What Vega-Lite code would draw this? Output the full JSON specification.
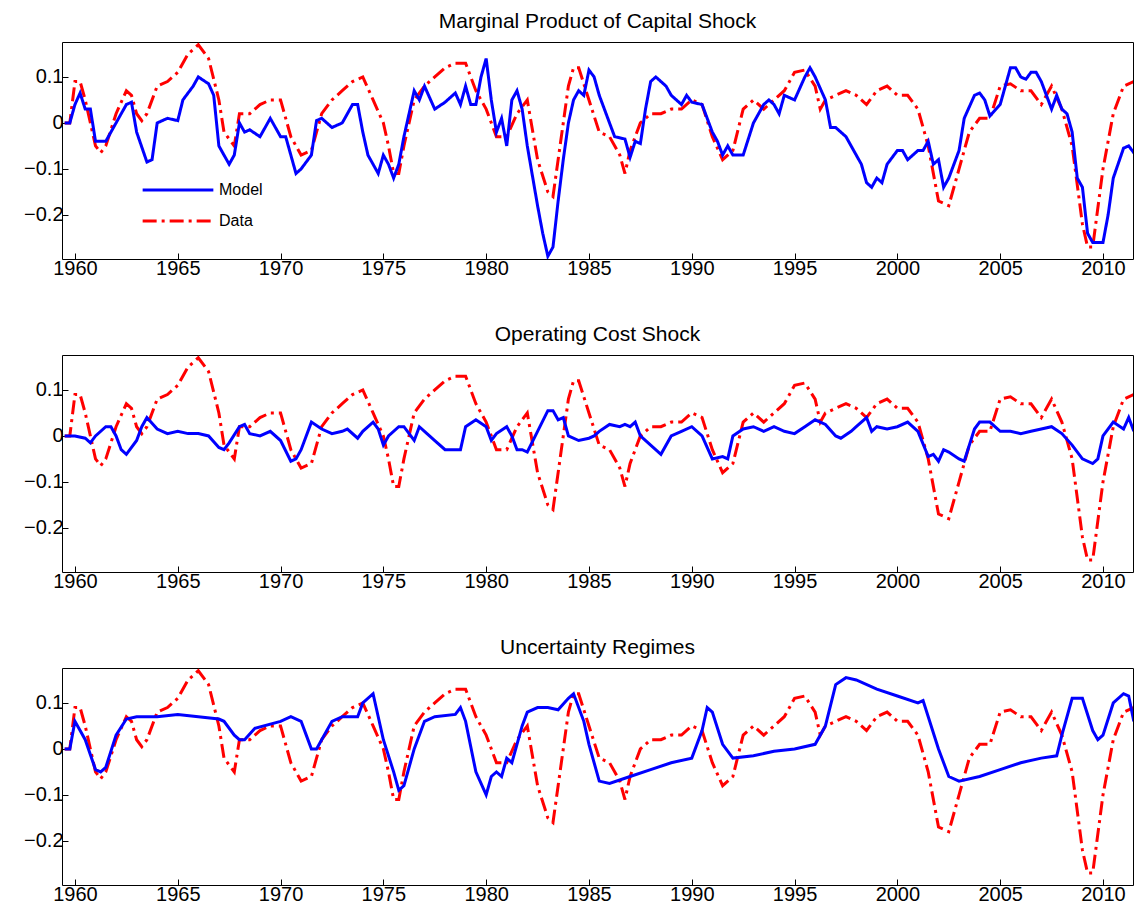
{
"$schema":"https://vega.github.io/schema/vega-lite/v6.json",
"padding":{"left":23,"top":10,"right":5,"bottom":0},
"spacing":44,
"config":{"font":"Liberation Sans","view":{"stroke":"black","strokeWidth":1},
"axis":{"grid":false,"domain":false,"tickSize":-6,"tickColor":"black","labelColor":"black","labelFontSize":20,"labelFont":"Liberation Sans","title":null,"labelPadding":5},
"title":{"fontSize":21,"fontWeight":"normal","font":"Liberation Sans","offset":10}},
"datasets":{
"data":[{"x":1959.5,"y":0},{"x":1959.75,"y":0},{"x":1960.0,"y":0.09},{"x":1960.25,"y":0.09},{"x":1960.5,"y":0.05},{"x":1961.0,"y":-0.05},{"x":1961.25,"y":-0.065},{"x":1961.5,"y":-0.05},{"x":1962.0,"y":0.02},{"x":1962.5,"y":0.07},{"x":1962.75,"y":0.06},{"x":1963.0,"y":0.02},{"x":1963.25,"y":0.005},{"x":1963.5,"y":0.02},{"x":1964,"y":0.08},{"x":1964.5,"y":0.09},{"x":1965,"y":0.11},{"x":1965.5,"y":0.15},{"x":1966,"y":0.17},{"x":1966.5,"y":0.14},{"x":1967,"y":0.05},{"x":1967.25,"y":-0.02},{"x":1967.75,"y":-0.05},{"x":1968,"y":0.02},{"x":1968.5,"y":0.02},{"x":1969,"y":0.04},{"x":1969.5,"y":0.05},{"x":1970,"y":0.05},{"x":1970.5,"y":-0.03},{"x":1971,"y":-0.07},{"x":1971.5,"y":-0.06},{"x":1972,"y":0.02},{"x":1972.5,"y":0.05},{"x":1973,"y":0.07},{"x":1973.5,"y":0.09},{"x":1974,"y":0.1},{"x":1974.5,"y":0.05},{"x":1975,"y":0.0},{"x":1975.25,"y":-0.05},{"x":1975.5,"y":-0.11},{"x":1975.75,"y":-0.11},{"x":1976,"y":-0.05},{"x":1976.5,"y":0.05},{"x":1977,"y":0.08},{"x":1977.5,"y":0.1},{"x":1978,"y":0.12},{"x":1978.5,"y":0.13},{"x":1979,"y":0.13},{"x":1979.5,"y":0.07},{"x":1980,"y":0.03},{"x":1980.5,"y":-0.03},{"x":1981,"y":-0.03},{"x":1981.5,"y":0.02},{"x":1982,"y":0.05},{"x":1982.5,"y":-0.08},{"x":1983,"y":-0.15},{"x":1983.25,"y":-0.16},{"x":1983.5,"y":-0.08},{"x":1984,"y":0.08},{"x":1984.25,"y":0.12},{"x":1984.5,"y":0.12},{"x":1985,"y":0.05},{"x":1985.5,"y":-0.02},{"x":1986,"y":-0.03},{"x":1986.5,"y":-0.07},{"x":1986.75,"y":-0.11},{"x":1987,"y":-0.06},{"x":1987.5,"y":0.0},{"x":1988,"y":0.02},{"x":1988.5,"y":0.02},{"x":1989,"y":0.03},{"x":1989.5,"y":0.03},{"x":1990,"y":0.05},{"x":1990.5,"y":0.04},{"x":1991,"y":-0.03},{"x":1991.5,"y":-0.08},{"x":1992,"y":-0.06},{"x":1992.5,"y":0.03},{"x":1993,"y":0.05},{"x":1993.5,"y":0.03},{"x":1994,"y":0.05},{"x":1994.5,"y":0.07},{"x":1995,"y":0.11},{"x":1995.5,"y":0.115},{"x":1996,"y":0.08},{"x":1996.25,"y":0.03},{"x":1996.5,"y":0.05},{"x":1997,"y":0.06},{"x":1997.5,"y":0.07},{"x":1998,"y":0.06},{"x":1998.5,"y":0.04},{"x":1999,"y":0.07},{"x":1999.5,"y":0.08},{"x":2000,"y":0.06},{"x":2000.5,"y":0.06},{"x":2001,"y":0.03},{"x":2001.5,"y":-0.05},{"x":2002,"y":-0.17},{"x":2002.5,"y":-0.18},{"x":2003,"y":-0.1},{"x":2003.5,"y":-0.02},{"x":2004,"y":0.01},{"x":2004.5,"y":0.01},{"x":2005,"y":0.08},{"x":2005.5,"y":0.085},{"x":2006,"y":0.07},{"x":2006.5,"y":0.07},{"x":2007,"y":0.04},{"x":2007.5,"y":0.08},{"x":2008,"y":0.03},{"x":2008.5,"y":-0.05},{"x":2009,"y":-0.22},{"x":2009.25,"y":-0.27},{"x":2009.5,"y":-0.27},{"x":2010,"y":-0.1},{"x":2010.5,"y":0.02},{"x":2011,"y":0.08},{"x":2011.5,"y":0.09}],
"m1":[{"x":1959.5,"y":0},{"x":1959.75,"y":0},{"x":1960,"y":0.04},{"x":1960.25,"y":0.065},{"x":1960.5,"y":0.03},{"x":1960.75,"y":0.03},{"x":1961,"y":-0.04},{"x":1961.5,"y":-0.04},{"x":1962,"y":0.0},{"x":1962.5,"y":0.04},{"x":1962.75,"y":0.045},{"x":1963,"y":-0.02},{"x":1963.5,"y":-0.085},{"x":1963.75,"y":-0.08},{"x":1964,"y":0.0},{"x":1964.5,"y":0.01},{"x":1965,"y":0.005},{"x":1965.25,"y":0.05},{"x":1965.75,"y":0.08},{"x":1966,"y":0.1},{"x":1966.5,"y":0.085},{"x":1966.75,"y":0.06},{"x":1967,"y":-0.05},{"x":1967.5,"y":-0.09},{"x":1967.75,"y":-0.07},{"x":1968,"y":0.0},{"x":1968.25,"y":-0.02},{"x":1968.5,"y":-0.015},{"x":1969,"y":-0.03},{"x":1969.5,"y":0.01},{"x":1970,"y":-0.03},{"x":1970.25,"y":-0.03},{"x":1970.75,"y":-0.11},{"x":1971,"y":-0.1},{"x":1971.5,"y":-0.07},{"x":1971.75,"y":0.005},{"x":1972,"y":0.01},{"x":1972.5,"y":-0.01},{"x":1973,"y":0.0},{"x":1973.5,"y":0.04},{"x":1973.75,"y":0.04},{"x":1974,"y":-0.02},{"x":1974.25,"y":-0.07},{"x":1974.75,"y":-0.11},{"x":1975,"y":-0.07},{"x":1975.25,"y":-0.09},{"x":1975.5,"y":-0.12},{"x":1975.75,"y":-0.09},{"x":1976,"y":-0.03},{"x":1976.5,"y":0.07},{"x":1976.75,"y":0.05},{"x":1977,"y":0.08},{"x":1977.5,"y":0.03},{"x":1978,"y":0.045},{"x":1978.5,"y":0.065},{"x":1978.75,"y":0.04},{"x":1979,"y":0.08},{"x":1979.25,"y":0.04},{"x":1979.5,"y":0.04},{"x":1979.75,"y":0.1},{"x":1980,"y":0.14},{"x":1980.25,"y":0.05},{"x":1980.5,"y":-0.02},{"x":1980.75,"y":0.01},{"x":1981,"y":-0.05},{"x":1981.25,"y":0.05},{"x":1981.5,"y":0.07},{"x":1981.75,"y":0.03},{"x":1982,"y":-0.05},{"x":1982.5,"y":-0.18},{"x":1982.75,"y":-0.24},{"x":1983,"y":-0.29},{"x":1983.25,"y":-0.27},{"x":1983.5,"y":-0.17},{"x":1983.75,"y":-0.08},{"x":1984,"y":0.0},{"x":1984.25,"y":0.05},{"x":1984.5,"y":0.07},{"x":1984.75,"y":0.06},{"x":1985,"y":0.115},{"x":1985.25,"y":0.1},{"x":1985.5,"y":0.06},{"x":1986,"y":0.0},{"x":1986.25,"y":-0.03},{"x":1986.75,"y":-0.035},{"x":1987,"y":-0.075},{"x":1987.25,"y":-0.04},{"x":1987.5,"y":-0.045},{"x":1987.75,"y":0.03},{"x":1988,"y":0.09},{"x":1988.25,"y":0.1},{"x":1988.75,"y":0.08},{"x":1989,"y":0.06},{"x":1989.5,"y":0.04},{"x":1989.75,"y":0.06},{"x":1990,"y":0.045},{"x":1990.5,"y":0.04},{"x":1991,"y":-0.02},{"x":1991.25,"y":-0.04},{"x":1991.5,"y":-0.07},{"x":1991.75,"y":-0.05},{"x":1992,"y":-0.07},{"x":1992.5,"y":-0.07},{"x":1993,"y":0.0},{"x":1993.5,"y":0.04},{"x":1993.75,"y":0.05},{"x":1994,"y":0.04},{"x":1994.25,"y":0.02},{"x":1994.5,"y":0.06},{"x":1995,"y":0.05},{"x":1995.5,"y":0.1},{"x":1995.75,"y":0.12},{"x":1996,"y":0.1},{"x":1996.5,"y":0.05},{"x":1996.75,"y":-0.01},{"x":1997,"y":-0.01},{"x":1997.5,"y":-0.03},{"x":1998,"y":-0.07},{"x":1998.25,"y":-0.09},{"x":1998.5,"y":-0.13},{"x":1998.75,"y":-0.14},{"x":1999,"y":-0.12},{"x":1999.25,"y":-0.13},{"x":1999.5,"y":-0.09},{"x":2000,"y":-0.06},{"x":2000.25,"y":-0.06},{"x":2000.5,"y":-0.08},{"x":2001,"y":-0.06},{"x":2001.25,"y":-0.06},{"x":2001.5,"y":-0.04},{"x":2001.75,"y":-0.09},{"x":2002,"y":-0.08},{"x":2002.25,"y":-0.14},{"x":2002.5,"y":-0.12},{"x":2003,"y":-0.06},{"x":2003.25,"y":0.01},{"x":2003.75,"y":0.06},{"x":2004,"y":0.065},{"x":2004.25,"y":0.05},{"x":2004.5,"y":0.015},{"x":2005,"y":0.04},{"x":2005.25,"y":0.08},{"x":2005.5,"y":0.12},{"x":2005.75,"y":0.12},{"x":2006,"y":0.1},{"x":2006.25,"y":0.095},{"x":2006.5,"y":0.11},{"x":2006.75,"y":0.11},{"x":2007,"y":0.09},{"x":2007.25,"y":0.06},{"x":2007.5,"y":0.03},{"x":2007.75,"y":0.06},{"x":2008,"y":0.03},{"x":2008.25,"y":0.02},{"x":2008.5,"y":-0.02},{"x":2008.75,"y":-0.12},{"x":2009,"y":-0.14},{"x":2009.25,"y":-0.24},{"x":2009.5,"y":-0.26},{"x":2010,"y":-0.26},{"x":2010.25,"y":-0.2},{"x":2010.5,"y":-0.12},{"x":2011,"y":-0.055},{"x":2011.25,"y":-0.05},{"x":2011.5,"y":-0.065},{"x":2011.75,"y":0.0}],
"m2":[{"x":1959.5,"y":0},{"x":1960,"y":0.0},{"x":1960.5,"y":-0.005},{"x":1960.75,"y":-0.015},{"x":1961,"y":0.0},{"x":1961.5,"y":0.02},{"x":1961.75,"y":0.02},{"x":1962,"y":0.0},{"x":1962.25,"y":-0.03},{"x":1962.5,"y":-0.04},{"x":1963,"y":-0.01},{"x":1963.25,"y":0.02},{"x":1963.5,"y":0.04},{"x":1964,"y":0.015},{"x":1964.5,"y":0.005},{"x":1965,"y":0.01},{"x":1965.5,"y":0.005},{"x":1966,"y":0.005},{"x":1966.5,"y":0.0},{"x":1967,"y":-0.025},{"x":1967.25,"y":-0.03},{"x":1967.5,"y":-0.015},{"x":1968,"y":0.02},{"x":1968.25,"y":0.025},{"x":1968.5,"y":0.005},{"x":1969,"y":0.0},{"x":1969.5,"y":0.01},{"x":1970,"y":-0.01},{"x":1970.5,"y":-0.055},{"x":1970.75,"y":-0.05},{"x":1971,"y":-0.03},{"x":1971.5,"y":0.03},{"x":1972,"y":0.015},{"x":1972.5,"y":0.005},{"x":1973,"y":0.01},{"x":1973.25,"y":0.015},{"x":1973.75,"y":-0.005},{"x":1974,"y":0.01},{"x":1974.5,"y":0.03},{"x":1974.75,"y":0.015},{"x":1975,"y":-0.02},{"x":1975.25,"y":0.0},{"x":1975.75,"y":0.02},{"x":1976,"y":0.02},{"x":1976.5,"y":-0.01},{"x":1976.75,"y":0.02},{"x":1977,"y":0.01},{"x":1977.5,"y":-0.01},{"x":1978,"y":-0.03},{"x":1978.5,"y":-0.03},{"x":1978.75,"y":-0.03},{"x":1979,"y":0.02},{"x":1979.5,"y":0.035},{"x":1980,"y":0.02},{"x":1980.25,"y":-0.01},{"x":1980.5,"y":0.005},{"x":1981,"y":0.02},{"x":1981.25,"y":0.0},{"x":1981.5,"y":-0.03},{"x":1981.75,"y":-0.03},{"x":1982,"y":-0.035},{"x":1982.5,"y":0.01},{"x":1983,"y":0.055},{"x":1983.25,"y":0.055},{"x":1983.5,"y":0.035},{"x":1983.75,"y":0.04},{"x":1984,"y":0.0},{"x":1984.5,"y":-0.01},{"x":1985,"y":-0.005},{"x":1985.25,"y":0.0},{"x":1985.5,"y":0.01},{"x":1986,"y":0.025},{"x":1986.5,"y":0.02},{"x":1986.75,"y":0.025},{"x":1987,"y":0.02},{"x":1987.25,"y":0.03},{"x":1987.5,"y":0.0},{"x":1988,"y":-0.02},{"x":1988.5,"y":-0.04},{"x":1989,"y":0.0},{"x":1989.5,"y":0.01},{"x":1990,"y":0.02},{"x":1990.5,"y":0.0},{"x":1991,"y":-0.05},{"x":1991.5,"y":-0.045},{"x":1991.75,"y":-0.05},{"x":1992,"y":0.0},{"x":1992.5,"y":0.015},{"x":1993,"y":0.02},{"x":1993.5,"y":0.01},{"x":1994,"y":0.02},{"x":1994.5,"y":0.01},{"x":1995,"y":0.005},{"x":1995.5,"y":0.02},{"x":1996,"y":0.035},{"x":1996.5,"y":0.025},{"x":1997,"y":0.0},{"x":1997.25,"y":-0.005},{"x":1997.75,"y":0.01},{"x":1998,"y":0.02},{"x":1998.5,"y":0.04},{"x":1998.75,"y":0.01},{"x":1999,"y":0.02},{"x":1999.5,"y":0.015},{"x":2000,"y":0.02},{"x":2000.5,"y":0.03},{"x":2001,"y":0.01},{"x":2001.5,"y":-0.045},{"x":2001.75,"y":-0.04},{"x":2002,"y":-0.055},{"x":2002.25,"y":-0.03},{"x":2002.5,"y":-0.035},{"x":2003,"y":-0.05},{"x":2003.25,"y":-0.055},{"x":2003.75,"y":0.015},{"x":2004,"y":0.03},{"x":2004.5,"y":0.03},{"x":2005,"y":0.01},{"x":2005.5,"y":0.01},{"x":2006,"y":0.005},{"x":2006.5,"y":0.01},{"x":2007,"y":0.015},{"x":2007.5,"y":0.02},{"x":2008,"y":0.005},{"x":2008.5,"y":-0.02},{"x":2009,"y":-0.05},{"x":2009.5,"y":-0.06},{"x":2009.75,"y":-0.05},{"x":2010,"y":0.0},{"x":2010.5,"y":0.03},{"x":2011,"y":0.015},{"x":2011.25,"y":0.04},{"x":2011.5,"y":0.01}],
"m3":[{"x":1959.5,"y":0},{"x":1959.75,"y":0},{"x":1960,"y":0.06},{"x":1960.5,"y":0.02},{"x":1961,"y":-0.045},{"x":1961.25,"y":-0.05},{"x":1961.5,"y":-0.04},{"x":1962,"y":0.03},{"x":1962.5,"y":0.065},{"x":1963,"y":0.07},{"x":1964,"y":0.07},{"x":1965,"y":0.075},{"x":1966,"y":0.07},{"x":1967,"y":0.065},{"x":1967.25,"y":0.06},{"x":1967.75,"y":0.03},{"x":1968,"y":0.02},{"x":1968.25,"y":0.02},{"x":1968.75,"y":0.045},{"x":1970,"y":0.06},{"x":1970.5,"y":0.07},{"x":1971,"y":0.06},{"x":1971.25,"y":0.03},{"x":1971.5,"y":0.0},{"x":1971.75,"y":0.0},{"x":1972,"y":0.02},{"x":1972.5,"y":0.06},{"x":1973,"y":0.07},{"x":1973.75,"y":0.07},{"x":1974,"y":0.1},{"x":1974.5,"y":0.12},{"x":1974.75,"y":0.07},{"x":1975,"y":0.02},{"x":1975.5,"y":-0.05},{"x":1975.75,"y":-0.09},{"x":1976,"y":-0.08},{"x":1976.5,"y":0.0},{"x":1977,"y":0.06},{"x":1977.5,"y":0.07},{"x":1978.5,"y":0.075},{"x":1978.75,"y":0.09},{"x":1979,"y":0.06},{"x":1979.5,"y":-0.05},{"x":1980,"y":-0.1},{"x":1980.25,"y":-0.06},{"x":1980.5,"y":-0.05},{"x":1980.75,"y":-0.06},{"x":1981,"y":-0.02},{"x":1981.25,"y":-0.03},{"x":1981.75,"y":0.05},{"x":1982,"y":0.08},{"x":1982.5,"y":0.09},{"x":1983,"y":0.09},{"x":1983.5,"y":0.085},{"x":1984,"y":0.11},{"x":1984.25,"y":0.12},{"x":1984.75,"y":0.06},{"x":1985,"y":0.01},{"x":1985.5,"y":-0.07},{"x":1986,"y":-0.075},{"x":1987,"y":-0.06},{"x":1988,"y":-0.045},{"x":1989,"y":-0.03},{"x":1990,"y":-0.02},{"x":1990.5,"y":0.04},{"x":1990.75,"y":0.09},{"x":1991,"y":0.08},{"x":1991.5,"y":0.01},{"x":1992,"y":-0.02},{"x":1993,"y":-0.015},{"x":1994,"y":-0.005},{"x":1995,"y":0.0},{"x":1996,"y":0.01},{"x":1996.5,"y":0.05},{"x":1997,"y":0.14},{"x":1997.5,"y":0.155},{"x":1998,"y":0.15},{"x":1999,"y":0.13},{"x":2000,"y":0.115},{"x":2001,"y":0.1},{"x":2001.25,"y":0.105},{"x":2002,"y":0.0},{"x":2002.5,"y":-0.06},{"x":2003,"y":-0.07},{"x":2004,"y":-0.06},{"x":2005,"y":-0.045},{"x":2006,"y":-0.03},{"x":2007,"y":-0.02},{"x":2007.75,"y":-0.015},{"x":2008,"y":0.03},{"x":2008.5,"y":0.11},{"x":2009,"y":0.11},{"x":2009.5,"y":0.04},{"x":2009.75,"y":0.02},{"x":2010,"y":0.03},{"x":2010.5,"y":0.1},{"x":2011,"y":0.12},{"x":2011.25,"y":0.115},{"x":2011.5,"y":0.06}]
},
"vconcat":[
{"title":"Marginal Product of Capital Shock","width":1071,"height":217,
"layer":[
{"data":{"name":"data"},"mark":{"type":"line","clip":true,"strokeWidth":3},
"encoding":{"x":{"field":"x","type":"quantitative","scale":{"domain":[1959.37,2011.46],"nice":false,"zero":false},"axis":{"values":[1960,1965,1970,1975,1980,1985,1990,1995,2000,2005,2010],"format":"d"}},
"y":{"field":"y","type":"quantitative","scale":{"domain":[-0.296,0.176],"nice":false},"axis":{"values":[-0.2,-0.1,0,0.1],"labelExpr":"datum.value==0?'0':format(datum.value,'.1f')"}},
"color":{"datum":"Data","type":"nominal","scale":{"domain":["Model","Data"],"range":["#0000ff","#ff0000"]},"legend":{"orient":"none","legendX":79,"legendY":137,"title":null,"symbolType":"stroke","symbolSize":5000,"symbolStrokeWidth":3,"labelFontSize":16,"labelColor":"black","rowPadding":9,"clipHeight":22,"symbolOffset":0,"labelOffset":4}},
"strokeDash":{"datum":"Data","type":"nominal","scale":{"domain":["Model","Data"],"range":[[1,0],[14,5,3,5]]}}}},
{"data":{"name":"m1"},"mark":{"type":"line","clip":true,"strokeWidth":3},
"encoding":{"x":{"field":"x","type":"quantitative"},"y":{"field":"y","type":"quantitative"},
"color":{"datum":"Model","type":"nominal"},"strokeDash":{"datum":"Model","type":"nominal"}}}
]},
{"title":"Operating Cost Shock","width":1071,"height":217,
"layer":[
{"data":{"name":"data"},"mark":{"type":"line","clip":true,"strokeWidth":3,"color":"#ff0000","strokeDash":[14,5,3,5]},
"encoding":{"x":{"field":"x","type":"quantitative","scale":{"domain":[1959.37,2011.46],"nice":false,"zero":false},"axis":{"values":[1960,1965,1970,1975,1980,1985,1990,1995,2000,2005,2010],"format":"d"}},
"y":{"field":"y","type":"quantitative","scale":{"domain":[-0.296,0.176],"nice":false},"axis":{"values":[-0.2,-0.1,0,0.1],"labelExpr":"datum.value==0?'0':format(datum.value,'.1f')"}}}},
{"data":{"name":"m2"},"mark":{"type":"line","clip":true,"strokeWidth":3,"color":"#0000ff"},
"encoding":{"x":{"field":"x","type":"quantitative"},"y":{"field":"y","type":"quantitative"}}}
]},
{"title":"Uncertainty Regimes","width":1071,"height":217,
"layer":[
{"data":{"name":"data"},"mark":{"type":"line","clip":true,"strokeWidth":3,"color":"#ff0000","strokeDash":[14,5,3,5]},
"encoding":{"x":{"field":"x","type":"quantitative","scale":{"domain":[1959.37,2011.46],"nice":false,"zero":false},"axis":{"values":[1960,1965,1970,1975,1980,1985,1990,1995,2000,2005,2010],"format":"d"}},
"y":{"field":"y","type":"quantitative","scale":{"domain":[-0.296,0.176],"nice":false},"axis":{"values":[-0.2,-0.1,0,0.1],"labelExpr":"datum.value==0?'0':format(datum.value,'.1f')"}}}},
{"data":{"name":"m3"},"mark":{"type":"line","clip":true,"strokeWidth":3,"color":"#0000ff"},
"encoding":{"x":{"field":"x","type":"quantitative"},"y":{"field":"y","type":"quantitative"}}}
]}
]}
